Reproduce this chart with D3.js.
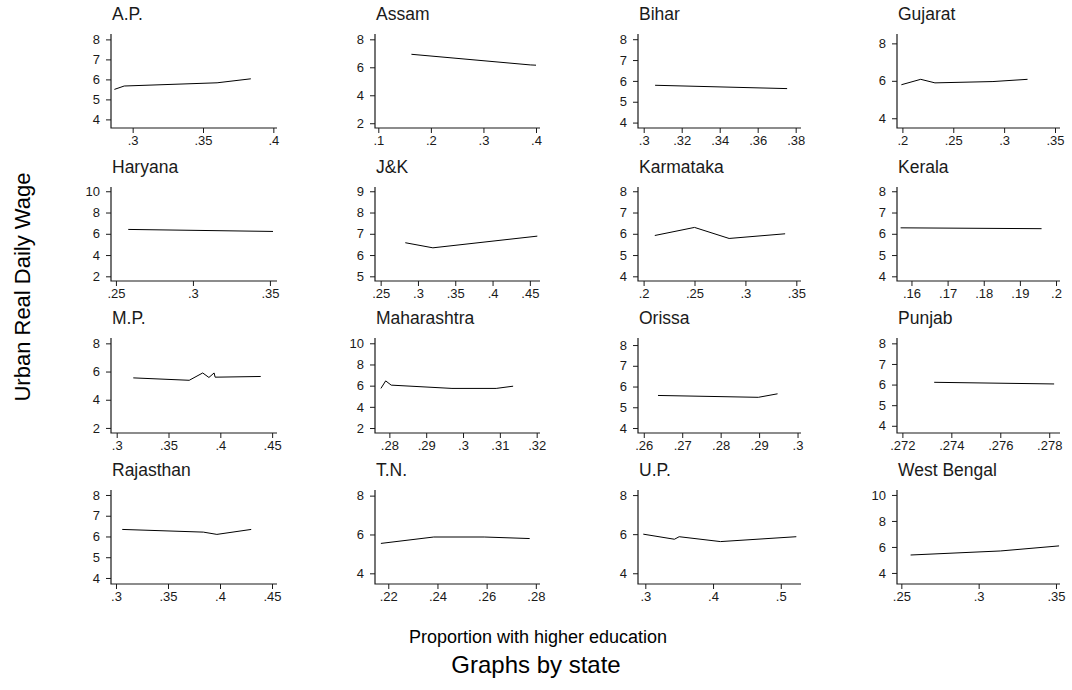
<!DOCTYPE html>
<html>
<head>
<meta charset="utf-8">
<script src="https://cdn.jsdelivr.net/npm/d3@7"></script>
<style>
  body { margin: 0; background: #fff; }
  svg { display: block; font-family: "Liberation Sans", Arial, Helvetica, sans-serif; }
</style>
</head>
<body>
<div id="chart"></div>
<script>
'use strict';

// states, in panel order
const states = ['A.P.', 'Assam', 'Bihar', 'Gujarat',
                'Haryana', 'J&K', 'Karmataka', 'Kerala',
                'M.P.', 'Maharashtra', 'Orissa', 'Punjab',
                'Rajasthan', 'T.N.', 'U.P.', 'West Bengal'];

// proportion with higher education (x) per state
const higherEd = [
    [0.287, 0.294, 0.360, 0.384],
    [0.163, 0.389, 0.400],
    [0.306, 0.3755],
    [0.199, 0.218, 0.232, 0.289, 0.323],
    [0.258, 0.352],
    [0.283, 0.320, 0.460],
    [0.211, 0.250, 0.284, 0.339],
    [0.157, 0.196],
    [0.316, 0.370, 0.383, 0.389, 0.394, 0.395, 0.439],
    [0.2777, 0.279, 0.2805, 0.297, 0.309, 0.3136],
    [0.2637, 0.2898, 0.2948],
    [0.2733, 0.2782],
    [0.306, 0.384, 0.397, 0.430],
    [0.217, 0.2385, 0.259, 0.2775],
    [0.297, 0.343, 0.350, 0.411, 0.523],
    [0.256, 0.297, 0.314, 0.352]
];

// urban real daily wage (y) per state
const realWage = [
    [5.50, 5.67, 5.83, 6.03],
    [6.93, 6.17, 6.15],
    [5.79, 5.63],
    [5.79, 6.08, 5.89, 5.96, 6.08],
    [6.41, 6.22],
    [6.58, 6.34, 6.89],
    [5.92, 6.30, 5.78, 6.00],
    [6.28, 6.24],
    [5.55, 5.38, 5.90, 5.58, 5.90, 5.60, 5.65],
    [5.74, 6.45, 6.05, 5.74, 5.74, 5.95],
    [5.57, 5.48, 5.65],
    [6.11, 6.03],
    [6.34, 6.21, 6.10, 6.34],
    [5.54, 5.87, 5.87, 5.79],
    [6.00, 5.74, 5.87, 5.62, 5.87],
    [5.38, 5.60, 5.69, 6.08]
];

// tick values per panel
const xTicks = [
    [.3, .35, .4], [.1, .2, .3, .4], [.3, .32, .34, .36, .38], [.2, .25, .3, .35],
    [.25, .3, .35], [.25, .3, .35, .4, .45], [.2, .25, .3, .35], [.16, .17, .18, .19, .2],
    [.3, .35, .4, .45], [.28, .29, .3, .31, .32], [.26, .27, .28, .29, .3], [.272, .274, .276, .278],
    [.3, .35, .4, .45], [.22, .24, .26, .28], [.3, .4, .5], [.25, .3, .35]
];
const yTicks = [
    [4, 5, 6, 7, 8], [2, 4, 6, 8], [4, 5, 6, 7, 8], [4, 6, 8],
    [2, 4, 6, 8, 10], [5, 6, 7, 8, 9], [4, 5, 6, 7, 8], [4, 5, 6, 7, 8],
    [2, 4, 6, 8], [2, 4, 6, 8, 10], [4, 5, 6, 7, 8], [4, 5, 6, 7, 8],
    [4, 5, 6, 7, 8], [4, 6, 8], [4, 6, 8], [4, 6, 8, 10]
];

// axis ranges per panel (data units)
const xRange = [
    [0.2846, 0.4026], [0.0937, 0.4076], [0.297, 0.3828], [0.1947, 0.3549],
    [0.2468, 0.3546], [0.2424, 0.4636], [0.1945, 0.3546], [0.156, 0.2011],
    [0.2945, 0.4547], [0.2761, 0.3209], [0.2585, 0.3009], [0.27178, 0.27844],
    [0.2952, 0.4548], [0.2146, 0.2817], [0.2892, 0.5299], [0.2472, 0.3526]
];
const yRange = [
    [3.57, 8.27], [1.66, 8.38], [3.74, 8.25], [3.48, 8.5],
    [1.56, 10.4], [4.78, 9.2], [3.78, 8.2], [3.78, 8.2],
    [1.64, 8.38], [1.53, 10.5], [3.76, 8.34], [3.65, 8.26],
    [3.71, 8.24], [3.45, 8.29], [3.45, 8.26], [3.15, 10.38]
];

const yTitle = 'Urban Real Daily Wage';
const xTitle = 'Proportion with higher education';
const note = 'Graphs by state';

const width = 1072;
const height = 690;
const colLeft = [111, 375, 638, 897];
const colRight = [277, 540, 801, 1060];
const rowTop = [34, 187, 338, 490];
const rowBottom = [128, 281, 433, 584];
const ink = '#1a1a1a';

const fmt = v => d3.format('~g')(v).replace(/^0\./, '.');

let svg = d3.select('#chart').append('svg')
    .attr('width', width)
    .attr('height', height);

states.forEach((name, i) => {
    const c = i % 4, r = Math.floor(i / 4);
    let x = d3.scaleLinear().domain(xRange[i]).range([colLeft[c], colRight[c]]);
    let y = d3.scaleLinear().domain(yRange[i]).range([rowBottom[r], rowTop[r]]);
    let g = svg.append('g');

    g.append('text')
        .attr('x', colLeft[c] + 1)
        .attr('y', rowTop[r] - 14)
        .attr('font-size', 17.5)
        .attr('fill', ink)
        .text(name);

    let ya = g.append('g')
        .attr('transform', `translate(${colLeft[c]},0)`)
        .call(d3.axisLeft(y).tickValues(yTicks[i]).tickFormat(fmt).tickSize(5).tickPadding(6));
    let xa = g.append('g')
        .attr('transform', `translate(0,${rowBottom[r]})`)
        .call(d3.axisBottom(x).tickValues(xTicks[i]).tickFormat(fmt).tickSize(5).tickPadding(3));
    [ya, xa].forEach(a => {
        a.attr('font-size', 13).attr('font-family', '"Liberation Sans", Arial, sans-serif');
        a.select('.domain').remove();
        a.selectAll('line').attr('stroke', ink);
        a.selectAll('text').attr('fill', ink);
    });
    // axis lines meeting at the corner
    g.append('path')
        .attr('d', `M${colLeft[c]},${rowTop[r]}V${rowBottom[r]}H${colRight[c]}`)
        .attr('fill', 'none')
        .attr('stroke', ink)
        .attr('stroke-width', 1.2);

    const pts = higherEd[i].map((v, k) => [v, realWage[i][k]]);
    g.append('path')
        .attr('d', d3.line().x(d => x(d[0])).y(d => y(d[1]))(pts))
        .attr('fill', 'none')
        .attr('stroke', '#000')
        .attr('stroke-width', 1);
});

svg.append('text')
    .attr('transform', 'translate(30,287) rotate(-90)')
    .attr('text-anchor', 'middle')
    .attr('font-size', 22)
    .attr('fill', '#000')
    .text(yTitle);

svg.append('text')
    .attr('x', 538)
    .attr('y', 643)
    .attr('text-anchor', 'middle')
    .attr('font-size', 18)
    .attr('fill', '#000')
    .text(xTitle);

svg.append('text')
    .attr('x', 536)
    .attr('y', 673)
    .attr('text-anchor', 'middle')
    .attr('font-size', 24)
    .attr('fill', '#000')
    .text(note);
</script>
</body>
</html>
